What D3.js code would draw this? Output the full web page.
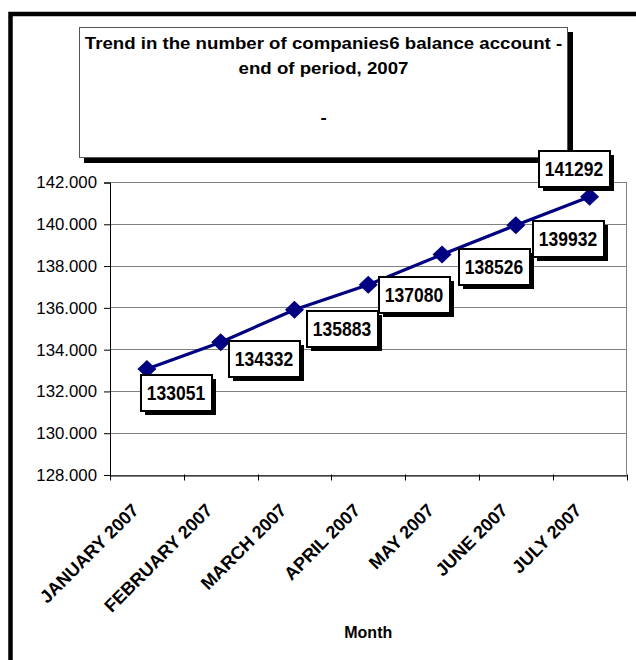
<!DOCTYPE html>
<html>
<head>
<meta charset="utf-8">
<script src="https://cdn.jsdelivr.net/npm/d3@7"></script>
<style>
  body { margin: 0; background: #fff; }
  text { font-family: Arial, "Liberation Sans", sans-serif; }
</style>
</head>
<body>
<div id="container"></div>
<script>
const months = ["JANUARY 2007", "FEBRUARY 2007", "MARCH 2007", "APRIL 2007", "MAY 2007", "JUNE 2007", "JULY 2007"]
const companies = [133051, 134332, 135883, 137080, 138526, 139932, 141292]
const yTicks = [128000, 130000, 132000, 134000, 136000, 138000, 140000, 142000]
const titleLines = ["Trend in the number of companies6 balance account -", "end of period, 2007"]

// where excel put each value box, relative to its point
const labelShift = [[-7, 5], [7, -2], [12, 0], [10, -9], [16, -7], [16, -5], [-52, -47]]

const width = 636
const height = 660
const marginLeft = 110
const marginRight = 636 - 626.5
const marginTop = 182
const plotBottom = 474.5

const x = d3.scaleBand()
    .domain(months)
    .range([marginLeft, width - marginRight])

const y = d3.scaleLinear()
    .domain([128000, 142000])
    .range([plotBottom, marginTop])

const svg = d3.create("svg")
    .attr("width", width)
    .attr("height", height)

// outer frame
svg.append("rect")
    .attr("x", 10.5).attr("y", 14)
    .attr("width", 700).attr("height", 700)
    .attr("fill", "none")
    .attr("stroke", "#000")
    .attr("stroke-width", 4.5)

// title box with shadow
svg.append("rect")
    .attr("x", 84).attr("y", 32)
    .attr("width", 489).attr("height", 131)
    .attr("fill", "#000")
svg.append("rect")
    .attr("x", 79.5).attr("y", 27.5)
    .attr("width", 488).attr("height", 130)
    .attr("fill", "#fff")
    .attr("stroke", "#555")

svg.selectAll(".title")
    .data(titleLines.concat(["-"]))
    .enter().append("text")
    .attr("class", "title")
    .attr("transform", (d, i) => `translate(323.5,${i < 2 ? 49 + i * 25 : 123}) scale(1.13,1)`)
    .attr("text-anchor", "middle")
    .attr("font-weight", "bold")
    .attr("font-size", 16.5)
    .text(d => d)

// grid
svg.append("g")
    .selectAll("line")
    .data(yTicks)
    .enter().append("line")
    .attr("x1", marginLeft)
    .attr("x2", width - marginRight)
    .attr("y1", d => Math.round(y(d)) + 0.5)
    .attr("y2", d => Math.round(y(d)) + 0.5)
    .attr("stroke", "#808080")

svg.append("line")
    .attr("x1", width - marginRight).attr("x2", width - marginRight)
    .attr("y1", marginTop).attr("y2", plotBottom)
    .attr("stroke", "#808080")

const yAxis = svg.append("g")
    .attr("transform", `translate(${marginLeft},0.5)`)
    .call(d3.axisLeft(y).tickValues(yTicks).tickSize(6).tickPadding(7)
        .tickFormat(d => d3.format(".3f")(d / 1000)))
yAxis.selectAll("text").attr("font-size", 16.8).attr("font-family", "Arial, 'Liberation Sans', sans-serif").attr("fill", "#000")
yAxis.select(".domain").attr("stroke", "#000")

const xAxis = svg.append("g")
    .attr("transform", `translate(0,${Math.round(plotBottom) + 0.5})`)
    .call(d3.axisBottom(x).tickSize(0).tickFormat(""))
xAxis.select(".domain").attr("stroke", "#000")

// ticks between the categories
svg.append("g")
    .selectAll("line")
    .data(months.concat([null]))
    .enter().append("line")
    .attr("x1", (d, i) => Math.round(x.range()[0] + i * x.step()) + 0.5)
    .attr("x2", (d, i) => Math.round(x.range()[0] + i * x.step()) + 0.5)
    .attr("y1", plotBottom)
    .attr("y2", plotBottom + 6)
    .attr("stroke", "#000")

svg.append("g")
    .selectAll("text")
    .data(months)
    .enter().append("text")
    .attr("transform", d => `translate(${x(d) + x.bandwidth() / 2 - 7},${plotBottom + 37}) rotate(-45)`)
    .attr("text-anchor", "end")
    .attr("font-weight", "bold")
    .attr("font-size", 18)
    .text(d => d)

svg.append("text")
    .attr("x", (marginLeft + width - marginRight) / 2)
    .attr("y", 638)
    .attr("text-anchor", "middle")
    .attr("font-weight", "bold")
    .attr("font-size", 16)
    .text("Month")

// the line
const cx = (d, i) => x(months[i]) + x.bandwidth() / 2
const line = d3.line()
    .x((d, i) => cx(d, i))
    .y(d => y(d))

svg.append("path")
    .datum(companies)
    .attr("d", line)
    .attr("fill", "none")
    .attr("stroke", "#000080")
    .attr("stroke-width", 3.2)

svg.selectAll(".dot")
    .data(companies)
    .enter().append("path")
    .attr("class", "dot")
    .attr("transform", (d, i) => `translate(${cx(d, i)},${y(d)})`)
    .attr("d", "M0,-9L9.5,0L0,9L-9.5,0Z")
    .attr("fill", "#000080")

// value boxes
const labels = svg.selectAll(".lab")
    .data(companies)
    .enter().append("g")
    .attr("class", "lab")
    .attr("transform", (d, i) => `translate(${Math.round(cx(d, i) + labelShift[i][0])},${Math.round(y(d) + labelShift[i][1])})`)

labels.append("rect")
    .attr("x", 5).attr("y", 5)
    .attr("width", 71).attr("height", 36)
    .attr("fill", "#000")
labels.append("rect")
    .attr("x", 1).attr("y", 1)
    .attr("width", 71).attr("height", 36)
    .attr("fill", "#fff")
    .attr("stroke", "#000")
    .attr("stroke-width", 2)
labels.append("text")
    .attr("transform", "translate(36,25.5) scale(1,1.15)")
    .attr("text-anchor", "middle")
    .attr("font-weight", "bold")
    .attr("font-size", 17.5)
    .text(d => d)

document.querySelector("#container").appendChild(svg.node())
</script>
</body>
</html>
